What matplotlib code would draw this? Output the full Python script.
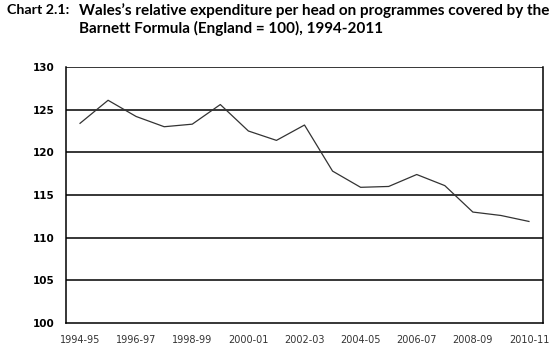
import matplotlib
matplotlib.use("Agg")
import matplotlib.pyplot as plt

# Data
years = ["1994-95", "1995-96", "1996-97", "1997-98", "1998-99", "1999-00",
         "2000-01", "2001-02", "2002-03", "2003-04", "2004-05", "2005-06",
         "2006-07", "2007-08", "2008-09", "2009-10", "2010-11"]
index = [123.4, 126.1, 124.2, 123.0, 123.3, 125.6, 122.5, 121.4, 123.2,
         117.8, 115.9, 116.0, 117.4, 116.1, 113.0, 112.6, 111.9]
yticks = [100, 105, 110, 115, 120, 125, 130]

fig = plt.figure(figsize=(5.56, 3.6), dpi=100)
ax = fig.add_axes([0.1187, 0.1028, 0.8579, 0.7111])

x = list(range(len(years)))
ax.plot(x, index, color="#333333", linewidth=0.9)

ax.set_xlim(-0.5, len(years) - 0.5)
ax.set_ylim(100, 130)
ax.set_yticks(yticks)
ax.set_yticklabels([str(t) for t in yticks], fontsize=7.5, fontweight="bold")
ax.set_xticks(x[::2])
ax.set_xticklabels(years[::2], fontsize=7, color="#333333")
ax.tick_params(length=0, pad=9)
ax.tick_params(axis="y", pad=8)

for t in yticks[1:]:
    ax.axhline(t, color="black", linewidth=1.1, zorder=1)
for s in ["left", "bottom", "right"]:
    ax.spines[s].set_linewidth(1.1)
ax.spines["top"].set_visible(False)

tfont = dict(family="Lato", fontsize=11, fontweight="bold", va="center")
fig.text(0.012, 0.972, "Chart 2.1:", **dict(tfont, fontsize=10.3))
fig.text(0.142, 0.972, "Wales\u2019s relative expenditure per head on programmes covered by the", **tfont)
fig.text(0.142, 0.922, "Barnett Formula (England = 100), 1994-2011", **tfont)

fig.savefig("out.png", dpi=100)
